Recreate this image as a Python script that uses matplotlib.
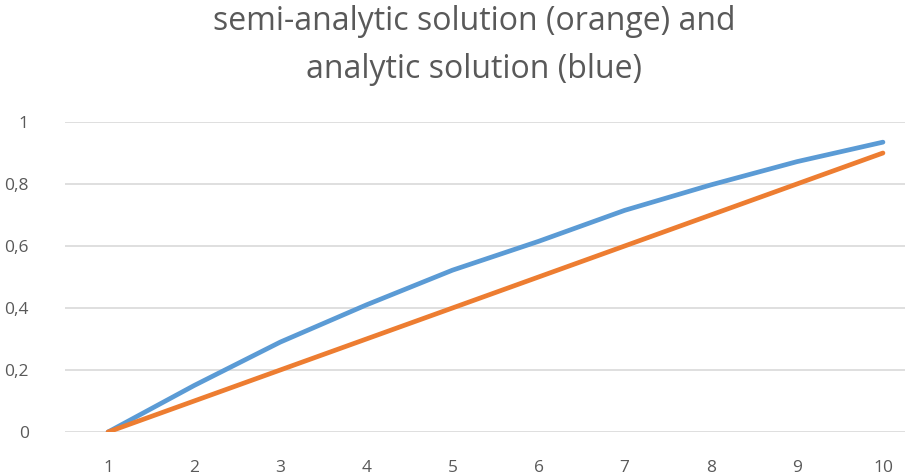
import matplotlib
matplotlib.use('Agg')
import matplotlib.pyplot as plt
from matplotlib.ticker import FuncFormatter

# data
x_vals = [1, 2, 3, 4, 5, 6, 7, 8, 9, 10]
analytic = [0.0, 0.15, 0.29, 0.41, 0.522, 0.615, 0.715, 0.797, 0.872, 0.935]
semi_analytic = [0.0, 0.1, 0.2, 0.3, 0.4, 0.5, 0.6, 0.7, 0.8, 0.9]
y_ticks = [0, 0.2, 0.4, 0.6, 0.8, 1.0]

plt.rcParams['font.family'] = ['Open Sans', 'DejaVu Sans']

fig = plt.figure(figsize=(9.15, 4.74), dpi=100)
ax = fig.add_axes([65 / 915, 42 / 474, 840 / 915, 310 / 474])

ax.plot(x_vals, analytic, color='#5B9BD5', linewidth=3.4, solid_capstyle='round', zorder=3)
ax.plot(x_vals, semi_analytic, color='#ED7D31', linewidth=3.4, solid_capstyle='round', zorder=3)

ax.set_xlim(0.5, 0.5 + 840 / 86.1)
ax.set_ylim(0, 1)
ax.set_xticks(x_vals)
ax.set_yticks(y_ticks)
ax.yaxis.set_major_formatter(FuncFormatter(lambda v, p: f'{v:g}'.replace('.', ',')))

ax.grid(axis='y', color='#D9D9D9', linewidth=1.2)
ax.set_axisbelow(True)
for s in ax.spines.values():
    s.set_visible(False)
ax.tick_params(length=0, labelsize=12.5, colors='#595959')
ax.tick_params(axis='x', pad=20)
ax.tick_params(axis='y', pad=26)

fig.text(0.518, 0.99, 'semi-analytic solution (orange) and\nanalytic solution (blue)',
         ha='center', va='top', fontsize=23, color='#595959', linespacing=1.6)

plt.savefig('out.png', dpi=100, facecolor='white')
plt.close()
